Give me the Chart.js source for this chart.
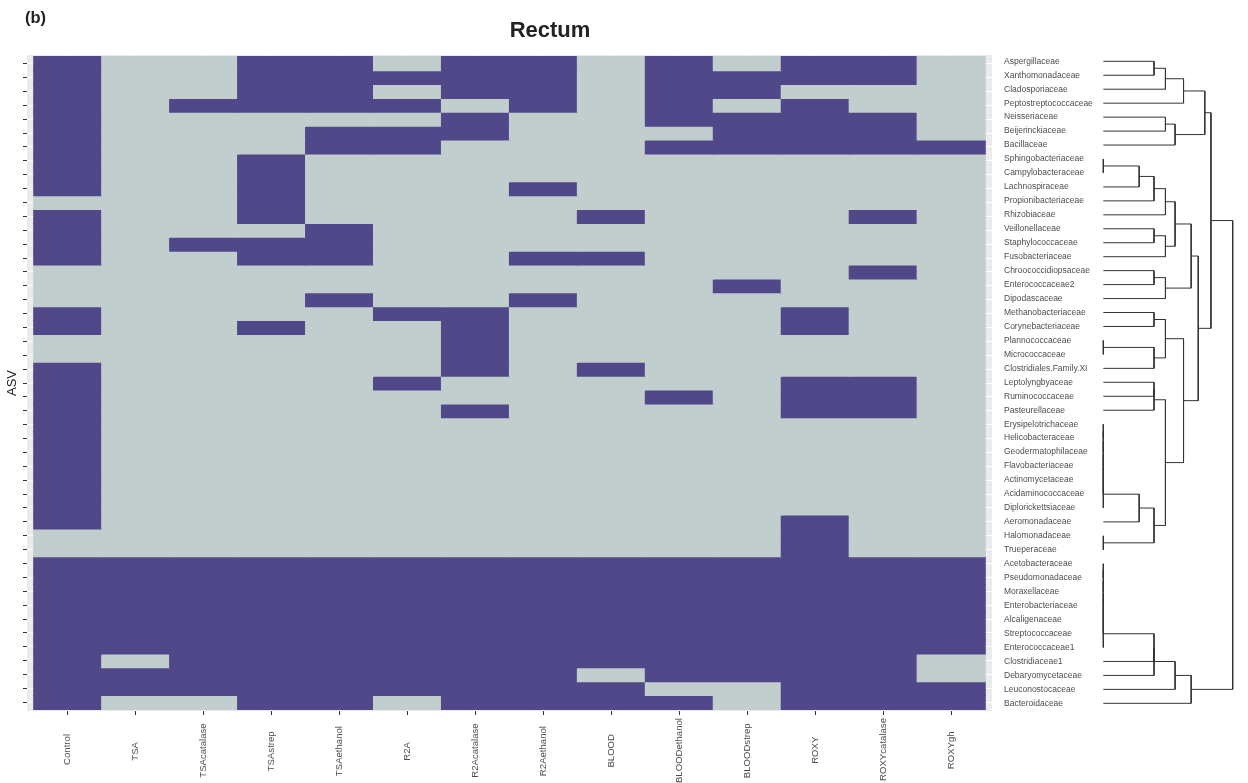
<!DOCTYPE html>
<html>
<head>
<meta charset="utf-8">
<title>Rectum</title>
<script src="https://cdn.jsdelivr.net/npm/chart.js@4.4.1/dist/chart.umd.min.js"></script>
<style>
  body { margin: 0; background: #fff; }
  #wrap { position: relative; width: 1248px; height: 783px; overflow: hidden; }
  #heat { position: absolute; left: 0; top: 0; }
  #tree { position: absolute; left: 1090px; top: 0; }
  #tag { position: absolute; left: 25px; top: 8px; line-height: 1; font: bold 16.5px "Liberation Sans", Arial, sans-serif; color: #222; }
</style>
</head>
<body>
<div id="wrap">
  <canvas id="heat" width="1248" height="783"></canvas>
  <canvas id="tree" width="158" height="783"></canvas>
  <div id="tag">(b)</div>
</div>
<script>
var media = ['Control', 'TSA', 'TSAcatalase', 'TSAstrep', 'TSAethanol', 'R2A', 'R2Acatalase',
  'R2Aethanol', 'BLOOD', 'BLOODethanol', 'BLOODstrep', 'ROXY', 'ROXYcatalase', 'ROXYgh'];

var families = ['Aspergillaceae', 'Xanthomonadaceae', 'Cladosporiaceae', 'Peptostreptococcaceae',
  'Neisseriaceae', 'Beijerinckiaceae', 'Bacillaceae', 'Sphingobacteriaceae', 'Campylobacteraceae',
  'Lachnospiraceae', 'Propionibacteriaceae', 'Rhizobiaceae', 'Veillonellaceae', 'Staphylococcaceae',
  'Fusobacteriaceae', 'Chroococcidiopsaceae', 'Enterococcaceae2', 'Dipodascaceae',
  'Methanobacteriaceae', 'Corynebacteriaceae', 'Plannococcaceae', 'Micrococcaceae',
  'Clostridiales.Family.XI', 'Leptolyngbyaceae', 'Ruminococcaceae', 'Pasteurellaceae',
  'Erysipelotrichaceae', 'Helicobacteraceae', 'Geodermatophilaceae', 'Flavobacteriaceae',
  'Actinomycetaceae', 'Acidaminococcaceae', 'Diplorickettsiaceae', 'Aeromonadaceae',
  'Halomonadaceae', 'Trueperaceae', 'Acetobacteraceae', 'Pseudomonadaceae', 'Moraxellaceae',
  'Enterobacteriaceae', 'Alcaligenaceae', 'Streptococcaceae', 'Enterococcaceae1',
  'Clostridiaceae1', 'Debaryomycetaceae', 'Leuconostocaceae', 'Bacteroidaceae'];

// presence (1) / absence (0), one row per family, columns in media order
var presence = [
  [1,0,0,1,1,0,1,1,0,1,0,1,1,0],
  [1,0,0,1,1,1,1,1,0,1,1,1,1,0],
  [1,0,0,1,1,0,1,1,0,1,1,0,0,0],
  [1,0,1,1,1,1,0,1,0,1,0,1,0,0],
  [1,0,0,0,0,0,1,0,0,1,1,1,1,0],
  [1,0,0,0,1,1,1,0,0,0,1,1,1,0],
  [1,0,0,0,1,1,0,0,0,1,1,1,1,1],
  [1,0,0,1,0,0,0,0,0,0,0,0,0,0],
  [1,0,0,1,0,0,0,0,0,0,0,0,0,0],
  [1,0,0,1,0,0,0,1,0,0,0,0,0,0],
  [0,0,0,1,0,0,0,0,0,0,0,0,0,0],
  [1,0,0,1,0,0,0,0,1,0,0,0,1,0],
  [1,0,0,0,1,0,0,0,0,0,0,0,0,0],
  [1,0,1,1,1,0,0,0,0,0,0,0,0,0],
  [1,0,0,1,1,0,0,1,1,0,0,0,0,0],
  [0,0,0,0,0,0,0,0,0,0,0,0,1,0],
  [0,0,0,0,0,0,0,0,0,0,1,0,0,0],
  [0,0,0,0,1,0,0,1,0,0,0,0,0,0],
  [1,0,0,0,0,1,1,0,0,0,0,1,0,0],
  [1,0,0,1,0,0,1,0,0,0,0,1,0,0],
  [0,0,0,0,0,0,1,0,0,0,0,0,0,0],
  [0,0,0,0,0,0,1,0,0,0,0,0,0,0],
  [1,0,0,0,0,0,1,0,1,0,0,0,0,0],
  [1,0,0,0,0,1,0,0,0,0,0,1,1,0],
  [1,0,0,0,0,0,0,0,0,1,0,1,1,0],
  [1,0,0,0,0,0,1,0,0,0,0,1,1,0],
  [1,0,0,0,0,0,0,0,0,0,0,0,0,0],
  [1,0,0,0,0,0,0,0,0,0,0,0,0,0],
  [1,0,0,0,0,0,0,0,0,0,0,0,0,0],
  [1,0,0,0,0,0,0,0,0,0,0,0,0,0],
  [1,0,0,0,0,0,0,0,0,0,0,0,0,0],
  [1,0,0,0,0,0,0,0,0,0,0,0,0,0],
  [1,0,0,0,0,0,0,0,0,0,0,0,0,0],
  [1,0,0,0,0,0,0,0,0,0,0,1,0,0],
  [0,0,0,0,0,0,0,0,0,0,0,1,0,0],
  [0,0,0,0,0,0,0,0,0,0,0,1,0,0],
  [1,1,1,1,1,1,1,1,1,1,1,1,1,1],
  [1,1,1,1,1,1,1,1,1,1,1,1,1,1],
  [1,1,1,1,1,1,1,1,1,1,1,1,1,1],
  [1,1,1,1,1,1,1,1,1,1,1,1,1,1],
  [1,1,1,1,1,1,1,1,1,1,1,1,1,1],
  [1,1,1,1,1,1,1,1,1,1,1,1,1,1],
  [1,1,1,1,1,1,1,1,1,1,1,1,1,1],
  [1,0,1,1,1,1,1,1,1,1,1,1,1,0],
  [1,1,1,1,1,1,1,1,0,1,1,1,1,0],
  [1,1,1,1,1,1,1,1,1,0,0,1,1,1],
  [1,0,0,1,1,0,1,1,1,1,0,1,1,1]
];

// leaf order of the dendrogram (row indices); two bottom leaves are swapped vs. the labels
var treeOrder = [0,1,2,3,4,5,6,7,8,9,10,11,12,13,14,15,16,17,18,19,20,21,22,23,24,25,26,27,28,29,
  30,31,32,33,34,35,36,37,38,39,40,41,42,44,43,45,46];

// hclust-style merges: negative = leaf (row -n-1), positive = earlier merge; third value = height
var treeMerges = [
  [-1, -2, 1.414], [1, -3, 1.732], [2, -4, 2.236], [-5, -6, 1.732], [4, -7, 2.0], [3, 5, 2.828],
  [-8, -9, 0], [7, -10, 1.0], [8, -11, 1.414], [9, -12, 1.732],
  [-13, -14, 1.414], [11, -15, 1.732], [10, 12, 2.0],
  [-16, -17, 1.414], [14, -18, 1.732], [13, 15, 2.449],
  [-19, -20, 1.414], [-21, -22, 0], [18, -23, 1.414], [17, 19, 1.732],
  [-24, -25, 1.414], [21, -26, 1.414],
  [-27, -28, 0], [23, -29, 0], [24, -30, 0], [25, -31, 0], [26, -32, 0], [27, -33, 0],
  [28, -34, 1.0], [-35, -36, 0], [29, 30, 1.414], [22, 31, 1.732],
  [20, 32, 2.236], [16, 33, 2.646], [6, 34, 3.0],
  [-37, -38, 0], [36, -39, 0], [37, -40, 0], [38, -41, 0], [39, -42, 0], [40, -43, 0],
  [41, -45, 1.414], [42, -44, 1.414], [43, -46, 2.0], [44, -47, 2.449],
  [35, 45, 3.606]
];

var purple = '#51488a';
var grey = '#c2cece';
var fontFamily = '"Liberation Sans", Arial, sans-serif';
Chart.defaults.font.family = fontFamily;

// rotated bottom labels are right-aligned by Chart.js; pad with spaces so they sit centred
function centredLabels(labels, size) {
  var ctx = document.createElement('canvas').getContext('2d');
  ctx.font = size + 'px ' + fontFamily;
  var widths = labels.map(function (t) { return ctx.measureText(t).width; });
  var widest = Math.max.apply(null, widths);
  var space = ctx.measureText(' ').width;
  return labels.map(function (t, i) {
    var n = Math.round((widest - widths[i]) / 2 / space);
    return t + new Array(n + 1).join(' ');
  });
}
var mediaLabels = centredLabels(media, 9.6);

var panelBackground = {
  id: 'panelBackground',
  beforeDraw: function (chart) {
    var a = chart.chartArea;
    var ctx = chart.ctx;
    ctx.save();
    ctx.fillStyle = '#ebebeb';
    ctx.fillRect(a.left, a.top, a.right - a.left, a.bottom - a.top);
    ctx.restore();
  }
};

var heatDatasets = families.map(function (fam, r) {
  return {
    label: fam,
    data: media.map(function (m, c) { return { x: c, y: [r - 0.5, r + 0.5] }; }),
    backgroundColor: presence[r].map(function (v) { return v ? purple : grey; }),
    borderWidth: 0,
    inflateAmount: 0.6,
    grouped: false,
    barPercentage: 1,
    categoryPercentage: 1
  };
});

new Chart(document.getElementById('heat'), {
  type: 'bar',
  data: { datasets: heatDatasets },
  plugins: [panelBackground],
  options: {
    responsive: false,
    animation: false,
    devicePixelRatio: 1,
    layout: { padding: { left: 0, right: 148, top: 0, bottom: 0 } },
    plugins: {
      legend: { display: false },
      tooltip: { enabled: false },
      title: {
        display: true,
        text: 'Rectum',
        color: '#222',
        font: { size: 22, weight: 'bold' },
        padding: { top: 18, bottom: 10.6 }
      }
    },
    scales: {
      x: {
        type: 'linear',
        min: -0.6,
        max: 13.6,
        offset: false,
        afterBuildTicks: function (s) { s.ticks = media.map(function (m, i) { return { value: i }; }); },
        afterFit: function (s) { s.height = 72; },
        ticks: {
          autoSkip: false,
          minRotation: 90,
          maxRotation: 90,
          padding: 3,
          color: '#4d4d4d',
          font: { size: 9.6 },
          callback: function (v) { return mediaLabels[v]; }
        },
        grid: { offset: false, color: '#ffffff', lineWidth: 1, tickColor: '#333', tickLength: 4 },
        border: { display: false }
      },
      y: {
        type: 'linear',
        position: 'left',
        reverse: true,
        min: -0.62,
        max: 46.62,
        afterBuildTicks: function (s) { s.ticks = families.map(function (f, i) { return { value: i }; }); },
        afterFit: function (s) { s.width = 27; },
        ticks: { autoSkip: false, callback: function () { return ''; } },
        grid: { color: '#ffffff', lineWidth: 1, tickColor: '#333', tickLength: 4 },
        border: { display: false },
        title: {
          display: true,
          text: 'ASV',
          color: '#1a1a1a',
          font: { size: 13 },
          padding: { top: 5, bottom: 0 }
        }
      },
      yR: {
        type: 'linear',
        position: 'right',
        reverse: true,
        min: -0.451,
        max: 46.55,
        afterBuildTicks: function (s) { s.ticks = families.map(function (f, i) { return { value: i }; }); },
        afterFit: function (s) { s.width = 108; },
        ticks: {
          autoSkip: false,
          padding: 12,
          crossAlign: 'near',
          color: '#4d4d4d',
          font: { size: 8.5 },
          callback: function (v) { return families[v]; }
        },
        grid: { drawOnChartArea: false, drawTicks: false },
        border: { display: false }
      }
    }
  }
});

// dendrogram: each merge drawn as a bracket from its two children
var leafPos = [];
treeOrder.forEach(function (row, pos) { leafPos[row] = pos; });
var nodeH = [];
var nodeY = [];
var treeDatasets = treeMerges.map(function (m, i) {
  var ends = [m[0], m[1]].map(function (c) {
    return c < 0 ? { h: 0, y: leafPos[-c - 1] } : { h: nodeH[c - 1], y: nodeY[c - 1] };
  });
  nodeH[i] = m[2];
  nodeY[i] = (ends[0].y + ends[1].y) / 2;
  return {
    data: [
      { x: ends[0].h, y: ends[0].y },
      { x: m[2], y: ends[0].y },
      { x: m[2], y: ends[1].y },
      { x: ends[1].h, y: ends[1].y }
    ],
    showLine: true,
    borderColor: '#333333',
    borderWidth: 1,
    pointRadius: 0,
    tension: 0,
    clip: false
  };
});

new Chart(document.getElementById('tree'), {
  type: 'scatter',
  data: { datasets: treeDatasets },
  options: {
    responsive: false,
    animation: false,
    devicePixelRatio: 1,
    layout: { padding: { left: 13.3, right: 15.3, top: 55, bottom: 72 } },
    plugins: { legend: { display: false }, tooltip: { enabled: false } },
    scales: {
      x: { type: 'linear', min: 0, max: 3.606, display: false },
      y: { type: 'linear', reverse: true, min: -0.451, max: 46.55, display: false }
    }
  }
});
</script>
</body>
</html>
